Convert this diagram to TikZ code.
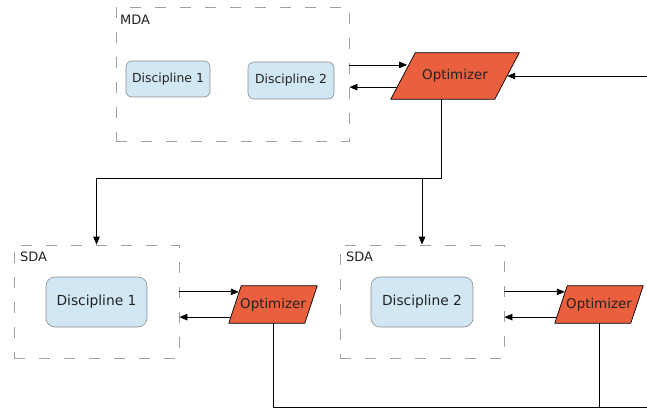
\documentclass[tikz,border=0pt]{standalone}
\usepackage{fontspec}
\setmainfont{DejaVu Sans}
\usetikzlibrary{arrows.meta,calc}
\definecolor{discfill}{HTML}{D2E7F4}
\definecolor{discline}{HTML}{8C8C8C}
\definecolor{optfill}{HTML}{EA5F3D}
\definecolor{framegray}{HTML}{A0A0A0}
\definecolor{txt}{HTML}{222222}
\begin{document}
\begin{tikzpicture}[x=1pt,y=-1pt,
  frame/.style={draw=framegray, dash pattern=on 11pt off 14pt, line width=0.8pt, inner sep=0pt},
  disc/.style={draw=discline, fill=discfill, text=txt, line width=0.6pt, inner sep=0pt},
  optshape/.style={draw=black, fill=optfill, line width=0.7pt, line join=miter},
  optbox/.style={inner sep=0pt, text=txt, font=\fontsize{13.4}{15}\selectfont},
  tag/.style={anchor=north west, inner sep=0pt, text=txt, font=\fontsize{13}{15}\selectfont},
  flow/.style={line width=0.8pt, -{Triangle[length=8pt,width=6.5pt]}},
  wire/.style={line width=0.8pt}
]
\useasboundingbox (0,0) rectangle (647,409);

% multidisciplinary analysis block
\node[frame, minimum width=233pt, minimum height=134pt] (mda) at (232.5,74) {};
\node[tag] (mdatag) at (120,15) {MDA};
\node[disc, rounded corners=6pt, minimum width=84pt, minimum height=36pt,
      font=\fontsize{12.4}{14}\selectfont] (mdad1) at (168,79) {Discipline 1};
\node[disc, rounded corners=6pt, minimum width=86pt, minimum height=37pt,
      font=\fontsize{12.4}{14}\selectfont] (mdad2) at (291,80.5) {Discipline 2};

% single-discipline analysis blocks
\node[frame, minimum width=165pt, minimum height=113pt] (sda1) at (96.5,301.5) {};
\node[tag] (sda1tag) at (20,252) {SDA};
\node[disc, rounded corners=9pt, minimum width=101pt, minimum height=50pt,
      font=\fontsize{13.8}{16}\selectfont] (sd1) at (96.5,302) {Discipline 1};

\node[frame, minimum width=164pt, minimum height=113pt] (sda2) at (422,301.5) {};
\node[tag] (sda2tag) at (346,252) {SDA};
\node[disc, rounded corners=9pt, minimum width=102pt, minimum height=50pt,
      font=\fontsize{13.8}{16}\selectfont] (sd2) at (422,302) {Discipline 2};

% system-level optimizer: a parallelogram leaning right inside its box
\node[optbox, minimum width=128pt, minimum height=46pt] (topt) at (455,76) {};
\filldraw[optshape] (topt.south west) -- ++(104,0) -- (topt.north east) -- ++(-104,0) -- cycle;
\node[optbox] (toptlbl) at (topt.center) {Optimizer};
\coordinate (toptnw) at ($(topt.north west)+(22,0)$);
\coordinate (toptin) at ($(topt.south west)!0.739!(toptnw)$);
\coordinate (toptout) at ($(topt.south west)!0.26!(toptnw)$);
\coordinate (toptright) at ($(topt.east)+(-12,0)$);
\coordinate (toptbot) at ($(topt.south west)+(51,0)$);

% discipline-level optimizers
\foreach \o/\x in {o1/273,o2/599}{
  \node[optbox, minimum width=88pt, minimum height=37pt] (\o) at (\x,304.5) {};
  \filldraw[optshape] (\o.south west) -- ++(76,0) -- (\o.north east) -- ++(-76,0) -- cycle;
  \node[optbox] (\o lbl) at (\o.center) {Optimizer};
  \coordinate (\o nw) at ($(\o.north west)+(12,0)$);
  \coordinate (\o in) at ($(\o.south west)!0.838!(\o nw)$);
  \coordinate (\o out) at ($(\o.south west)!0.162!(\o nw)$);
}

% free ends and junctions
\coordinate (inT) at (647,76);
\coordinate (split) at (442,178);
\coordinate (outB) at (647,407);

% top loop
\draw[flow] (toptin -| mda.east) -- (toptin);
\draw[flow] (toptout) -- (toptout -| mda.east);
\draw[flow] (inT) -- (toptright);
\draw[flow] (toptbot) -- (toptbot |- split) -| (sda1.north);
\draw[flow] (sda2.north |- split) -- (sda2.north);

% lower loops
\draw[flow] (o1in -| sda1.east) -- (o1in);
\draw[flow] (o1out) -- (o1out -| sda1.east);
\draw[flow] (o2in -| sda2.east) -- (o2in);
\draw[flow] (o2out) -- (o2out -| sda2.east);
\draw[wire] (o1.south) |- (outB);
\draw[wire] (o2.south) -- (o2.south |- outB);
\end{tikzpicture}
\end{document}
